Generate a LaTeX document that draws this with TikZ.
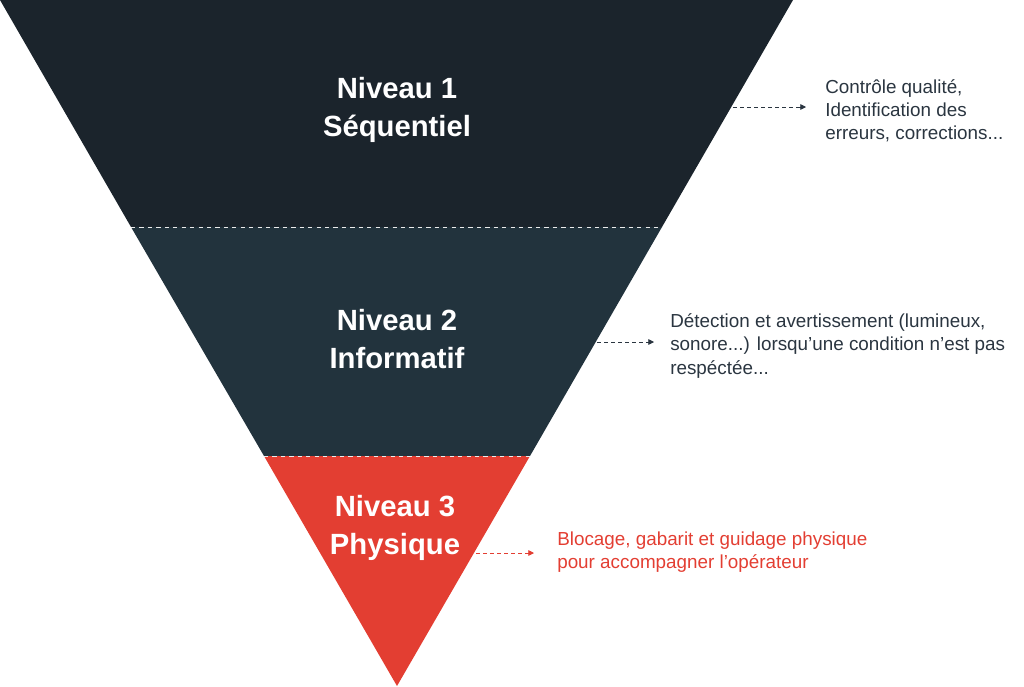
\documentclass[tikz,border=0pt]{standalone}
\usepackage{fontspec}
\setmainfont{Liberation Sans}
\usetikzlibrary{arrows.meta,calc}
\definecolor{nuit}{HTML}{1B242C}
\definecolor{ardoise}{HTML}{22333D}
\definecolor{rouge}{HTML}{E33E32}
\definecolor{encre}{HTML}{2A3540}

\begin{document}
\begin{tikzpicture}[x=0.025cm,y=-0.025cm,
  titre/.style={text=white,align=center,inner sep=0pt,font=\fontsize{20.8}{27.5}\selectfont\bfseries},
  note/.style={anchor=west,align=left,inner sep=0pt,text=encre,font=\fontsize{13.4}{16.4}\selectfont},
  fleche/.style={draw=#1,densely dashed,line width=0.5pt,-{Triangle[length=4pt,width=4pt]}},
  limite/.style={draw=white!85!gray,dashed,line width=0.6pt}]
\useasboundingbox (0,0) rectangle (1024,686);
% les trois niveaux
\coordinate (g0) at (0,0);
\coordinate (d0) at (793,0);
\coordinate (g1) at (131,227);
\coordinate (d1) at (662,227);
\coordinate (g2) at (264,456);
\coordinate (d2) at (530,456);
\coordinate (pointe) at (397,686);
\fill[nuit] (g0) -- (d0) -- (d1) -- (g1) -- cycle;
\fill[ardoise] (g1) -- (d1) -- (d2) -- (g2) -- cycle;
\fill[rouge] (g2) -- (d2) -- (pointe) -- cycle;
\path[limite] (g1) -- (d1);
\path[limite] (g2) -- (d2);

\node[titre] (n1) at (397,110) {Niveau 1\\Séquentiel};
\node[titre] (n2) at (397,339) {Niveau 2\\Informatif};
\node[titre] (n3) at (395,528) {Niveau 3\\Physique};

% explications
\node[note] (t1) at (825,111) {Contrôle qualité,\\Identification des\\erreurs, corrections...};
\node[note] (t2) at (670,346) {Détection et avertissement (lumineux,\\sonore...) lorsqu’une condition n’est pas\\respéctée...};
\node[note,text=rouge] (t3) at (557,552) {Blocage, gabarit et guidage physique\\pour accompagner l’opérateur};

\coordinate (e1) at (733,107);
\coordinate (e2) at (597,342);
\coordinate (e3) at (476,553);
\path[fleche=encre] (e1) -- ($(e1 -| t1.west)+(-19,0)$);
\path[fleche=encre] (e2) -- ($(e2 -| t2.west)+(-16,0)$);
\path[fleche=rouge] (e3) -- ($(e3 -| t3.west)+(-23,0)$);
\end{tikzpicture}
\end{document}
